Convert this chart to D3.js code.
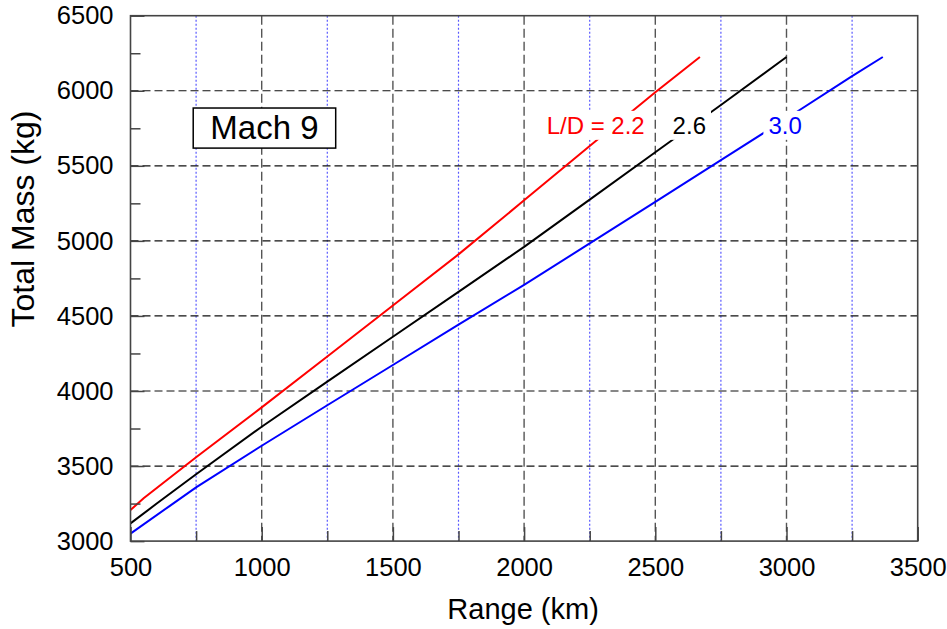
<!DOCTYPE html>
<html>
<head>
<meta charset="utf-8">
<script src="https://cdn.jsdelivr.net/npm/d3@7"></script>
<style>
body { margin: 0; background: #fff; }
text { font-family: "Liberation Sans", Arial, sans-serif; }
</style>
</head>
<body>
<script>
// L/D = 2.2
var range22 = [500, 550, 750, 1000, 1250, 1500, 1750, 2000, 2250, 2500, 2670];
var mass22 = [3207, 3285, 3558, 3891, 4230, 4570, 4910, 5270, 5632, 5990, 6225];
// L/D = 2.6
var range26 = [500, 600, 750, 1000, 1250, 1500, 1750, 2000, 2250, 2500, 2750, 3000];
var mass26 = [3118, 3250, 3445, 3762, 4062, 4361, 4660, 4960, 5275, 5590, 5905, 6225];
// L/D = 3.0
var range30 = [500, 650, 750, 1000, 1250, 1500, 1750, 2000, 2250, 2500, 2750, 3000, 3250, 3367];
var mass30 = [3050, 3235, 3358, 3635, 3905, 4173, 4442, 4707, 4983, 5260, 5538, 5815, 6098, 6225];

var seriesNames = ["L/D = 2.2", "2.6", "3.0"];
var xTicks = [500, 1000, 1500, 2000, 2500, 3000, 3500];
var xMinor = [750, 1250, 1750, 2250, 2750, 3250];
var yTicks = [3000, 3500, 4000, 4500, 5000, 5500, 6000, 6500];
var yMinor = [3250, 3750, 4250, 4750, 5250, 5750, 6250];

var W = 947, H = 629;
var m = {left: 130.5, top: 15.7, right: 29.3, bottom: 87.9};
var w = W - m.left - m.right, h = H - m.top - m.bottom;

var svg = d3.select("body").append("svg").attr("width", W).attr("height", H);
var g = svg.append("g").attr("transform", "translate(" + m.left + "," + m.top + ")");

var x = d3.scaleLinear().domain([500, 3500]).range([0, w]);
var y = d3.scaleLinear().domain([3000, 6500]).range([h, 0]);

// minor vertical grid (blue dotted)
g.selectAll("line.vminor")
    .data(xMinor)
    .enter().append("line")
    .attr("class", "vminor")
    .attr("x1", d => x(d)).attr("x2", d => x(d))
    .attr("y1", 0).attr("y2", h)
    .attr("stroke", "#5a5aff")
    .attr("stroke-width", 1.2)
    .attr("stroke-dasharray", "2,2");

// major grid
g.selectAll("line.vmajor")
    .data(xTicks.slice(1, -1))
    .enter().append("line")
    .attr("class", "vmajor")
    .attr("x1", d => x(d)).attr("x2", d => x(d))
    .attr("y1", 0).attr("y2", h)
    .attr("stroke", "#555")
    .attr("stroke-width", 1.4)
    .attr("stroke-dasharray", "9,4");

g.selectAll("line.hmajor")
    .data(yTicks.slice(1, -1))
    .enter().append("line")
    .attr("class", "hmajor")
    .attr("x1", 0).attr("x2", w)
    .attr("y1", d => y(d)).attr("y2", d => y(d))
    .attr("stroke", "#111")
    .attr("stroke-width", 1.2)
    .attr("stroke-dasharray", "8,4");

// data lines
var line = d3.line().x(d => x(d[0])).y(d => y(d[1]));
var series = [
    {pts: d3.zip(range22, mass22), color: "#ff0000"},
    {pts: d3.zip(range26, mass26), color: "#000000"},
    {pts: d3.zip(range30, mass30), color: "#0000ff"}
];
g.selectAll("path.series")
    .data(series)
    .enter().append("path")
    .attr("class", "series")
    .attr("d", d => line(d.pts))
    .attr("fill", "none")
    .attr("stroke", d => d.color)
    .attr("stroke-width", 2);

// line labels with white background
var labelAt = [[2086, 5713], [2566, 5713], [2931, 5713]];
var labelColor = ["#ff0000", "#000000", "#0000ff"];
seriesNames.forEach(function(name, i) {
    var t = g.append("text")
        .attr("x", x(labelAt[i][0]))
        .attr("y", y(labelAt[i][1]))
        .attr("font-size", 24)
        .attr("fill", labelColor[i])
        .text(name);
    var b = t.node().getBBox();
    g.insert("rect", function() { return t.node(); })
        .attr("x", b.x - 5).attr("y", b.y - 1)
        .attr("width", b.width + 10).attr("height", b.height + 2)
        .attr("fill", "#fff");
});

// Mach 9 box
var box = g.append("g");
box.append("rect")
    .attr("x", x(739)).attr("y", y(5885))
    .attr("width", x(1282) - x(739)).attr("height", y(5618) - y(5885))
    .attr("fill", "#fff")
    .attr("stroke", "#000")
    .attr("stroke-width", 1.5);
box.append("text")
    .attr("x", (x(739) + x(1282)) / 2)
    .attr("y", y(5885) + 31)
    .attr("text-anchor", "middle")
    .attr("font-size", 33)
    .text("Mach 9");

// axes
var fmt = d3.format("d");
var xAxis = d3.axisBottom(x).tickValues(xTicks).tickFormat(fmt).tickSizeInner(-14).tickSizeOuter(0).tickPadding(17);
var yAxis = d3.axisLeft(y).tickValues(yTicks).tickFormat(fmt).tickSizeInner(-14).tickSizeOuter(0).tickPadding(17);

var gx = g.append("g").attr("transform", "translate(0," + h + ")").call(xAxis);
var gy = g.append("g").call(yAxis);
gx.append("g").call(d3.axisBottom(x).tickValues(xMinor).tickSizeInner(-10).tickSizeOuter(0).tickFormat(""));
gy.append("g").call(d3.axisLeft(y).tickValues(yMinor).tickSizeInner(-10).tickSizeOuter(0).tickFormat(""));

[gx, gy].forEach(function(a) {
    a.selectAll("path.domain").remove();
    a.selectAll("line").attr("stroke", "#444").attr("stroke-width", 1.5);
    a.selectAll("text")
        .attr("font-family", "Liberation Sans, Arial, sans-serif")
        .attr("font-size", 25.5)
        .attr("fill", "#000");
});

// frame
g.append("rect")
    .attr("x", 0).attr("y", 0)
    .attr("width", w).attr("height", h)
    .attr("fill", "none")
    .attr("stroke", "#444")
    .attr("stroke-width", 1.6);

// axis titles
svg.append("text")
    .attr("x", m.left + w / 2 - 1)
    .attr("y", 619)
    .attr("text-anchor", "middle")
    .attr("font-size", 29)
    .text("Range (km)");

svg.append("text")
    .attr("transform", "translate(33.5," + 219 + ") rotate(-90)")
    .attr("text-anchor", "middle")
    .attr("font-size", 32)
    .text("Total Mass (kg)");
</script>
</body>
</html>
